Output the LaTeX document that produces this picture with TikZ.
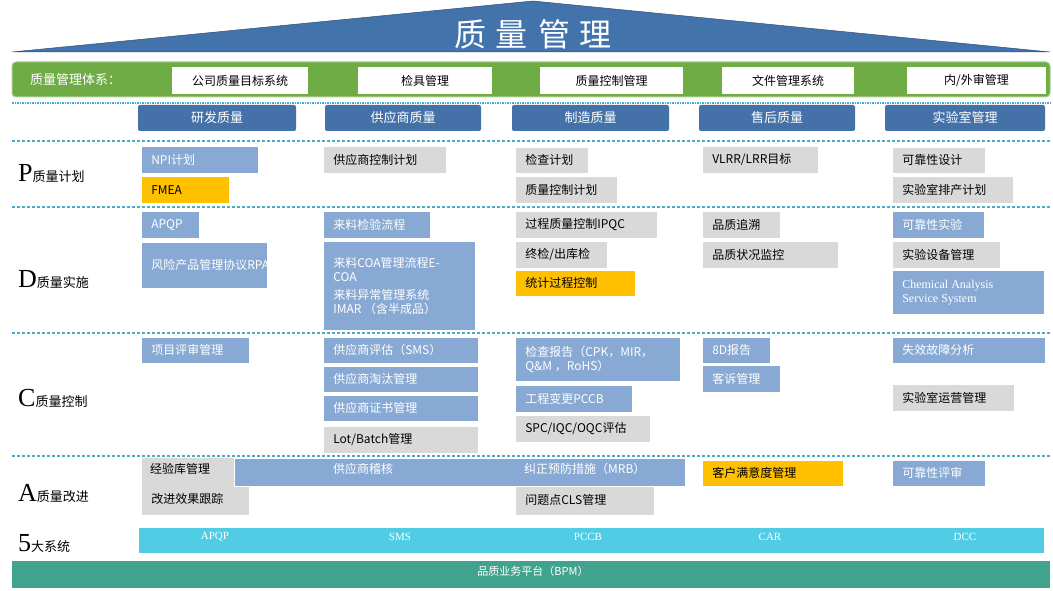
\documentclass[tikz,border=0pt]{standalone}
\usepackage{fontspec}
\setmainfont{Noto Sans CJK SC}
\newfontfamily\lat{Liberation Serif}
\begin{document}
\begin{tikzpicture}[x=1pt,y=-1pt,
  box/.style={anchor=north west,inner sep=0pt,align=left,font=\fontsize{12}{14}\selectfont,draw=white,line width=0.6pt},
  bl/.style={fill=blueB,text=white},
  gr/.style={fill=grayB,text=black},
  ye/.style={fill=yelB,text=black},
  sep/.style={draw=sepC,line width=1.3pt,dash pattern=on 3pt off 2pt},
  head/.style={fill=headC,rounded corners=2pt,text=white,font=\fontsize{13}{15}\selectfont,inner sep=0pt},
  wb/.style={fill=white,font=\fontsize{12}{14}\selectfont,inner sep=0pt},
  rowl/.style={anchor=west,inner sep=0pt,font=\fontsize{13}{15}\selectfont},
  sysl/.style={text=white,font=\fontsize{11}{13}\selectfont,inner sep=0pt}]
\definecolor{blueB}{HTML}{87A9D3}
\definecolor{grayB}{HTML}{D9D9D9}
\definecolor{yelB}{HTML}{FFC000}
\definecolor{sepC}{HTML}{4BACC6}
\definecolor{headC}{HTML}{4472A8}
\definecolor{roofC}{HTML}{4373AB}
\definecolor{greenC}{HTML}{6FAC46}
\definecolor{cyanC}{HTML}{50CDE5}
\definecolor{tealC}{HTML}{41A38E}
\newcommand\qb[7][]{%
  \pgfmathsetmacro\qw{#5-#3}\pgfmathsetmacro\qh{#6-#4}\pgfmathsetmacro\qt{#5-#3-12}%
  \node[box,#1,minimum width=\qw pt,minimum height=\qh pt] (#2) at (#3,#4) {\hspace*{8pt}\parbox{\qt pt}{\raggedright #7}};}
\useasboundingbox (0,0) rectangle (1053,591);
% roof
\fill[roofC,draw=roofC!70!black,line width=0.5pt] (12,52) -- (533,1) -- (1050,52) -- cycle;
\node[text=white,font=\fontsize{32}{34}\selectfont,inner sep=0pt] (title) at (533,34) {质\hspace{10pt}量\hspace{10pt}管\hspace{10pt}理};
% green bar
\fill[greenC,draw=greenC!60!white,line width=1pt,rounded corners=4pt] (12,62) rectangle (1050,97);
\node[text=white,anchor=west,font=\fontsize{13}{15}\selectfont,inner sep=0pt] (sys) at (30,80) {质量管理体系：};
\node[wb,minimum width=136pt,minimum height=27pt] (g1) at (240,80.5) {公司质量目标系统};
\node[wb,minimum width=134pt,minimum height=27pt] (g2) at (425,80.5) {检具管理};
\node[wb,minimum width=143pt,minimum height=27pt] (g3) at (611.5,80.5) {质量控制管理};
\node[wb,minimum width=132pt,minimum height=27pt] (g4) at (788,80.5) {文件管理系统};
\node[wb,minimum width=139pt,minimum height=27pt] (g5) at (976.5,80.5) {内/外审管理};
\draw[draw=sepC,line width=1.3pt,dash pattern=on 1.5pt off 1pt] (12,103) -- (1050,103);
% headers
\node[head,minimum width=158pt,minimum height=26pt] (h1) at (217,118) {研发质量};
\node[head,minimum width=156pt,minimum height=26pt] (h2) at (403,118) {供应商质量};
\node[head,minimum width=157pt,minimum height=26pt] (h3) at (590.5,118) {制造质量};
\node[head,minimum width=156pt,minimum height=26pt] (h4) at (777,118) {售后质量};
\node[head,minimum width=160pt,minimum height=26pt] (h5) at (965,118) {实验室管理};
% separators
\draw[sep] (12,141) -- (1050,141);
\draw[sep] (12,207) -- (1050,207);
\draw[sep] (12,333) -- (1050,333);
\draw[sep] (12,456) -- (1050,456);
% row labels
\node[rowl] (rP) at (18,174) {{\lat\fontsize{26}{26}\selectfont P}质量计划};
\node[rowl] (rD) at (18,280) {{\lat\fontsize{26}{26}\selectfont D}质量实施};
\node[rowl] (rC) at (18,398) {{\lat\fontsize{26}{26}\selectfont C}质量控制};
\node[rowl] (rA) at (18,493) {{\lat\fontsize{26}{26}\selectfont A}质量改进};
\node[rowl] (r5) at (18,543) {{\lat\fontsize{26}{26}\selectfont 5}大系统};
% P
\qb[bl]{p1}{141}{146}{258}{173}{NPI计划}
\qb[ye]{p2}{141}{176}{229}{203}{FMEA}
\qb[gr]{p3}{323}{146}{446}{173}{供应商控制计划}
\qb[gr]{p4}{515}{147}{588}{173}{检查计划}
\qb[gr]{p5}{515}{176}{617}{203}{质量控制计划}
\qb[gr]{p6}{702}{146}{818}{173}{VLRR/LRR目标}
\qb[gr]{p7}{892}{147}{985}{173}{可靠性设计}
\qb[gr]{p8}{892}{176}{1013}{203}{实验室排产计划}
% D
\qb[bl]{d1}{141}{211}{199}{238}{APQP}
\qb[bl]{d2}{141}{242}{267}{288}{风险产品管理协议RPAF}
\qb[bl]{d3}{323}{211}{430}{238}{来料检验流程}
\qb[bl]{d4}{323}{241}{475}{330}{来料COA管理流程E-\\COA\\[4pt]来料异常管理系统\\IMAR （含半成品）}
\qb[gr]{d5}{515}{211}{657}{238}{过程质量控制IPQC}
\qb[gr]{d6}{515}{241}{607}{268}{终检/出库检}
\qb[ye]{d7}{515}{270}{635}{296}{统计过程控制}
\qb[gr]{d8}{702}{211}{780}{238}{品质追溯}
\qb[gr]{d9}{702}{241}{838}{268}{品质状况监控}
\qb[bl]{d10}{892}{211}{984}{238}{可靠性实验}
\qb[gr]{d11}{892}{241}{1000}{268}{实验设备管理}
\qb[bl]{d12}{892}{270}{1044}{314}{\lat Chemical Analysis\\Service System}
% C
\qb[bl]{c1}{141}{337}{249}{363}{项目评审管理}
\qb[bl]{c2}{323}{337}{478}{363}{供应商评估（SMS）}
\qb[bl]{c3}{323}{366}{478}{392}{供应商淘汰管理}
\qb[bl]{c4}{323}{395}{478}{421}{供应商证书管理}
\qb[gr]{c5}{323}{426}{478}{453}{Lot/Batch管理}
\qb[bl]{c6}{515}{337}{680}{381}{检查报告（CPK，MIR，\\Q\&M ，RoHS）}
\qb[bl]{c7}{515}{385}{632}{412}{工程变更PCCB}
\qb[gr]{c8}{515}{415}{650}{442}{SPC/IQC/OQC评估}
\qb[bl]{c9}{702}{337}{770}{363}{8D报告}
\qb[bl]{c10}{702}{365}{780}{392}{客诉管理}
\qb[bl]{c11}{892}{337}{1045}{363}{失效故障分析}
\qb[gr]{c12}{892}{384}{1014}{411}{实验室运营管理}
% A
\qb[gr]{a1}{141}{457}{249}{515}{\vspace*{26pt}改进效果跟踪}
\qb[gr]{a2}{515}{458}{654}{515}{\vspace*{26pt}问题点CLS管理}
\qb[bl]{a3}{234}{458}{685}{486}{}
\node[anchor=west,inner sep=0pt,font=\fontsize{12}{14}\selectfont] (a1t) at (150,469) {经验库管理};
\node[anchor=west,inner sep=0pt,text=white,font=\fontsize{12}{14}\selectfont] (a3t) at (333,469) {供应商稽核};
\node[anchor=west,inner sep=0pt,text=white,font=\fontsize{12}{14}\selectfont] (a4t) at (524,469) {纠正预防措施（MRB）};
\qb[ye]{a5}{702}{460}{843}{486}{客户满意度管理}
\qb[bl]{a6}{892}{460}{985}{486}{可靠性评审}
% systems
\fill[cyanC,draw=white,line width=0.6pt] (138,527) rectangle (1044,553);
\node[sysl] (s1) at (215,537) {\lat APQP};
\node[sysl] (s2) at (400,537) {\lat SMS};
\node[sysl] (s3) at (588,537) {\lat PCCB};
\node[sysl] (s4) at (770,537) {\lat CAR};
\node[sysl] (s5) at (965,537) {\lat DCC};
\fill[tealC] (12,561) rectangle (1050,588);
\node[sysl] (bpm) at (533,571) {品质业务平台（BPM）};
\end{tikzpicture}
\end{document}
